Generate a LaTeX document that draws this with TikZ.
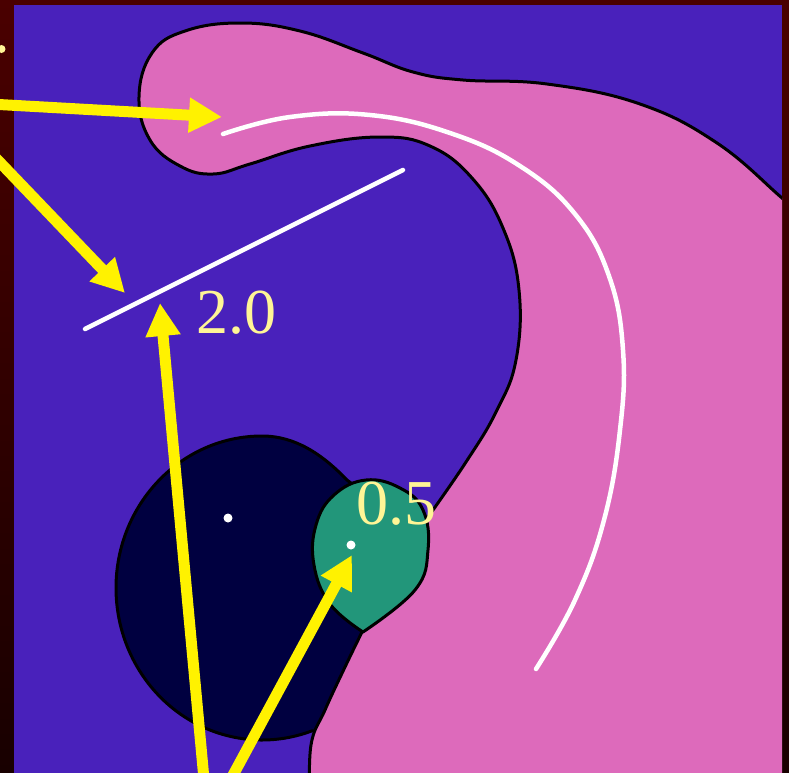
\documentclass[tikz,border=0pt]{standalone}
\usepackage{fontspec}
\setmainfont{Liberation Serif}
\usetikzlibrary{arrows.meta}
\definecolor{bgtop}{HTML}{4A0000}
\definecolor{bgbot}{HTML}{180000}
\definecolor{purp}{HTML}{4921BB}
\definecolor{pinkc}{HTML}{DD6ABB}
\definecolor{navyc}{HTML}{000040}
\definecolor{tealc}{HTML}{22967A}
\definecolor{lbl}{HTML}{FFF596}
\tikzset{
  region/.style={draw=black, line width=3pt, line join=round},
  wline/.style={draw=white, line width=4.5pt},
  yarrow/.style={draw=yellow, line width=11pt, -{Triangle[length=33pt,width=33pt]}},
  wdot/.style={fill=white},
  numlabel/.style={text=lbl, inner sep=0pt, anchor=base west, font=\fontsize{64}{64}\selectfont}
}
\begin{document}
\begin{tikzpicture}[x=1pt,y=-1pt]
\useasboundingbox (0,0) rectangle (789,772);
\shade[top color=bgtop, bottom color=bgbot] (0,0) rectangle (789,772);
\fill[purp] (14,5) rectangle (782,780);
\begin{scope}
\clip (14,5) rectangle (782,780);
% navy region
\path[region, fill=navyc] (347,480) .. controls (322,454) and (295,436) .. (262,436)
  arc[start angle=-90, end angle=-290, x radius=146, y radius=152]
  -- (400,740) -- (400,620) -- (400,520) -- cycle;
% pink region
\path[region, fill=pinkc] plot[smooth, tension=0.7] coordinates {(810,222) (782,198) (717,143) (640,104) (547,84) (463,80) (413,72) (363,53) (300,31) (240,23) (185,31) (152,53) (139,97) (150,140) (180,166) (213,174) (250,164) (310,146) (380,137) (430,146) (472,178) (503,228) (519,290) (516,360) (496,412) (466,462) (428,517)}
  -- (400,580) -- (362,632)
  -- plot[smooth, tension=0.7] coordinates {(362,632) (345,667) (325,710) (311,745) (310,800)}
  -- (810,800) -- cycle;
% teal region
\path[region, fill=tealc] plot[smooth, tension=0.7] coordinates {(363,632) (330,604) (314,565) (316,525) (334,495) (366,480) (400,488) (423,510) (428,550) (415,590) (363,632)} -- cycle;
\end{scope}
% white lines
\draw[wline, line cap=round] plot[smooth, tension=0.7] coordinates {(223,134) (290,117) (370,115) (450,133) (520,166) (575,214) (609,276) (623,350) (620,430) (604,520) (575,600) (536,669)};
\coordinate (s1) at (85,329);
\coordinate (s2) at (403,170);
\draw[wline, line cap=round] (s1) -- (s2);
% dots
\fill[wdot] (228,518) circle (4.5);
\fill[wdot] (351,545) circle (4.5);
\fill[lbl] (1.5,49) circle (4);
% arrows
\coordinate (a1s) at (-10,104);
\coordinate (a1e) at (222,117);
\coordinate (a2s) at (-10,152);
\coordinate (a2e) at (125,293);
\coordinate (a3s) at (205,790);
\coordinate (a3e) at (160,303);
\coordinate (a4s) at (225,790);
\coordinate (a4e) at (352,555);
\draw[yarrow] (a1s) -- (a1e);
\draw[yarrow] (a2s) -- (a2e);
\draw[yarrow] (a3s) -- (a3e);
\draw[yarrow] (a4s) -- (a4e);
% labels
\node[numlabel] (l20) at (196,333) {2.0};
\node[numlabel] (l05) at (356,524) {0.5};
\end{tikzpicture}
\end{document}
